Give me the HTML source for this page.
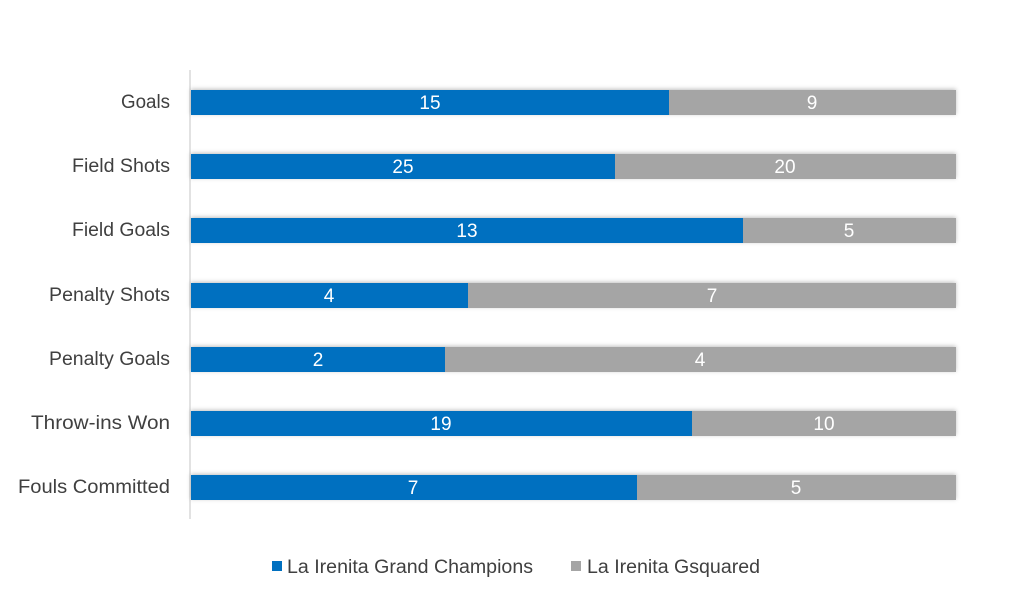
<!DOCTYPE html>
<html><head><style>body{margin:0;background:#fff}svg{display:block}</style></head><body>
<svg width="1024" height="606" xmlns="http://www.w3.org/2000/svg" font-family="Liberation Sans, sans-serif">
<defs><filter id="s" x="-5%" y="-50%" width="110%" height="200%"><feDropShadow dx="0" dy="-1" stdDeviation="2" flood-color="#000" flood-opacity="0.25"/></filter></defs>
<line x1="190" y1="70" x2="190" y2="519" stroke="#d9d9d9" stroke-width="1.5"/>
<g font-size="19" fill="#404040" text-anchor="end" lengthAdjust="spacingAndGlyphs">
<text x="170" y="108" textLength="49" lengthAdjust="spacingAndGlyphs">Goals</text>
<text x="170" y="172" textLength="98" lengthAdjust="spacingAndGlyphs">Field Shots</text>
<text x="170" y="236" textLength="98" lengthAdjust="spacingAndGlyphs">Field Goals</text>
<text x="170" y="301" textLength="121" lengthAdjust="spacingAndGlyphs">Penalty Shots</text>
<text x="170" y="365" textLength="121" lengthAdjust="spacingAndGlyphs">Penalty Goals</text>
<text x="170" y="429" textLength="139" lengthAdjust="spacingAndGlyphs">Throw-ins Won</text>
<text x="170" y="493" textLength="152" lengthAdjust="spacingAndGlyphs">Fouls Committed</text>
</g>
<g filter="url(#s)">
<rect x="191" y="90" width="478" height="25" fill="#0070C0"/><rect x="669" y="90" width="287" height="25" fill="#A5A5A5"/>
<rect x="191" y="154" width="424" height="25" fill="#0070C0"/><rect x="615" y="154" width="341" height="25" fill="#A5A5A5"/>
<rect x="191" y="218" width="552" height="25" fill="#0070C0"/><rect x="743" y="218" width="213" height="25" fill="#A5A5A5"/>
<rect x="191" y="283" width="277" height="25" fill="#0070C0"/><rect x="468" y="283" width="488" height="25" fill="#A5A5A5"/>
<rect x="191" y="347" width="254" height="25" fill="#0070C0"/><rect x="445" y="347" width="511" height="25" fill="#A5A5A5"/>
<rect x="191" y="411" width="501" height="25" fill="#0070C0"/><rect x="692" y="411" width="264" height="25" fill="#A5A5A5"/>
<rect x="191" y="475" width="446" height="25" fill="#0070C0"/><rect x="637" y="475" width="319" height="25" fill="#A5A5A5"/>
</g>
<g font-size="19" fill="#fff" text-anchor="middle">
<text x="430" y="109">15</text><text x="812" y="109">9</text>
<text x="403" y="173">25</text><text x="785" y="173">20</text>
<text x="467" y="237">13</text><text x="849" y="237">5</text>
<text x="329" y="302">4</text><text x="712" y="302">7</text>
<text x="318" y="366">2</text><text x="700" y="366">4</text>
<text x="441" y="430">19</text><text x="824" y="430">10</text>
<text x="413" y="494">7</text><text x="796" y="494">5</text>
</g>
<rect x="272" y="561" width="10" height="10" fill="#0070C0"/>
<text x="287" y="573" font-size="19" fill="#404040" textLength="246" lengthAdjust="spacingAndGlyphs">La Irenita Grand Champions</text>
<rect x="571" y="561" width="10" height="10" fill="#A5A5A5"/>
<text x="587" y="573" font-size="19" fill="#404040" textLength="173" lengthAdjust="spacingAndGlyphs">La Irenita Gsquared</text>
</svg>
</body></html>
